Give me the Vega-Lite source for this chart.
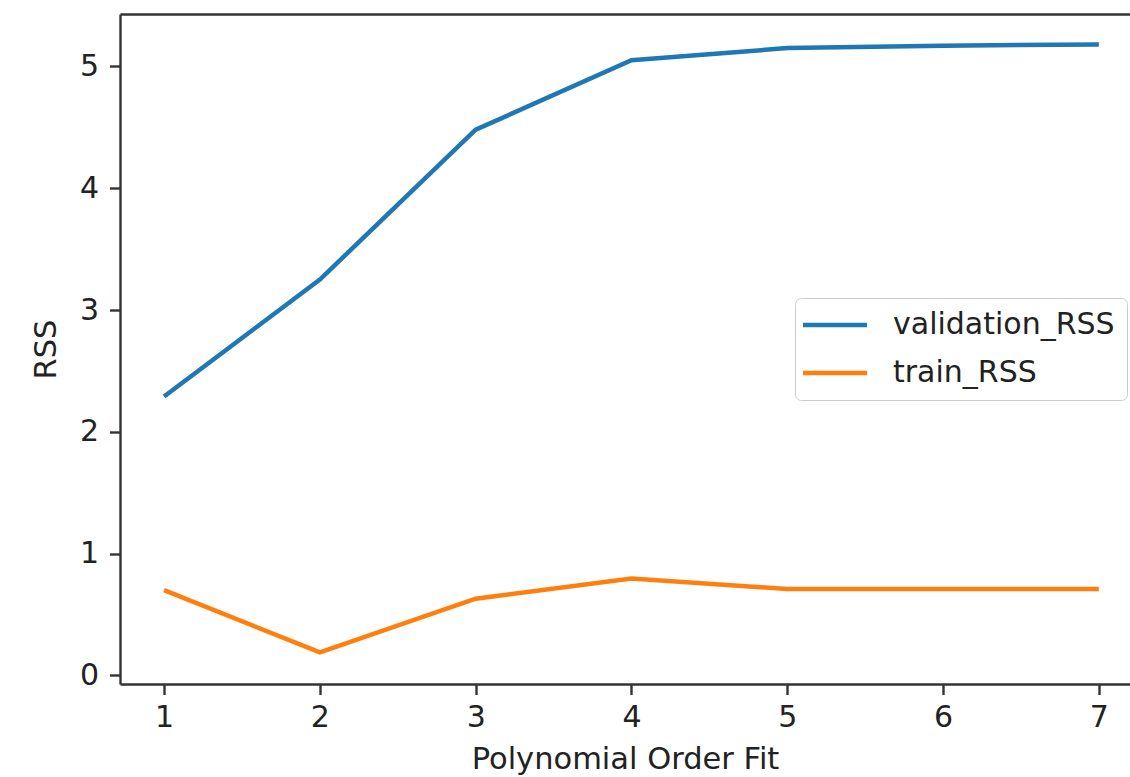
{
  "$schema": "https://vega.github.io/schema/vega-lite/v6.json",
  "width": 1010,
  "height": 670,
  "autosize": {"type": "none"},
  "padding": {"left": 120, "top": 14, "right": 0, "bottom": 93},
  "background": "white",
  "config": {
    "view": {"stroke": null},
    "font": "DejaVu Sans",
    "axis": {
      "labelFont": "DejaVu Sans",
      "titleFont": "DejaVu Sans",
      "labelFontSize": 30,
      "titleFontSize": 30.5,
      "titleFontWeight": "normal",
      "labelColor": "#222222",
      "titleColor": "#222222",
      "domainColor": "#333333",
      "tickColor": "#333333",
      "domainWidth": 2.4,
      "tickWidth": 2.4,
      "tickSize": 10.5,
      "grid": false
    }
  },
  "data": {
    "values": [
      {"order": 1, "series": "validation_RSS", "rss": 2.29},
      {"order": 2, "series": "validation_RSS", "rss": 3.25},
      {"order": 3, "series": "validation_RSS", "rss": 4.48},
      {"order": 4, "series": "validation_RSS", "rss": 5.05},
      {"order": 5, "series": "validation_RSS", "rss": 5.15},
      {"order": 6, "series": "validation_RSS", "rss": 5.17},
      {"order": 7, "series": "validation_RSS", "rss": 5.18},
      {"order": 1, "series": "train_RSS", "rss": 0.70},
      {"order": 2, "series": "train_RSS", "rss": 0.19},
      {"order": 3, "series": "train_RSS", "rss": 0.63},
      {"order": 4, "series": "train_RSS", "rss": 0.795},
      {"order": 5, "series": "train_RSS", "rss": 0.71},
      {"order": 6, "series": "train_RSS", "rss": 0.71},
      {"order": 7, "series": "train_RSS", "rss": 0.71}
    ]
  },
  "layer": [
    {
      "mark": {"type": "line", "strokeWidth": 4.5, "clip": true},
      "encoding": {
        "x": {
          "field": "order", "type": "quantitative",
          "scale": {"domain": [0.717, 7.2], "nice": false, "zero": false},
          "axis": {"values": [1, 2, 3, 4, 5, 6, 7], "format": "d", "title": "Polynomial Order Fit", "labelPadding": 8, "titlePadding": 12, "labelFlush": false}
        },
        "y": {
          "field": "rss", "type": "quantitative",
          "scale": {"domain": [-0.07, 5.43], "nice": false, "zero": false},
          "axis": {"values": [0, 1, 2, 3, 4, 5], "format": "d", "title": "RSS", "labelPadding": 11, "titlePadding": 18, "labelFlush": false}
        },
        "color": {
          "field": "series", "type": "nominal",
          "scale": {"domain": ["validation_RSS", "train_RSS"], "range": ["#1f77b4", "#ff7f0e"]},
          "legend": {
            "title": null,
            "orient": "none",
            "legendX": 675,
            "legendY": 284,
            "symbolType": "M-3,0H3",
            "symbolSize": 455,
            "symbolStrokeWidth": 4.5,
            "symbolOffset": 13,
            "labelFontSize": 30,
            "labelFont": "DejaVu Sans",
            "labelColor": "#222222",
            "labelOffset": 43,
            "labelLimit": 400,
            "rowPadding": 18,
            "padding": 12,
            "strokeColor": "#cccccc",
            "fillColor": "white",
            "cornerRadius": 6
          }
        }
      }
    },
    {
      "mark": {"type": "line", "opacity": 0},
      "encoding": {
        "x": {
          "field": "order", "type": "quantitative",
          "scale": {"domain": [0.717, 7.2], "nice": false, "zero": false},
          "axis": {"orient": "top", "labels": false, "ticks": false, "title": null}
        },
        "y": {"field": "rss", "type": "quantitative"}
      }
    }
  ],
  "resolve": {"axis": {"x": "independent"}}
}
